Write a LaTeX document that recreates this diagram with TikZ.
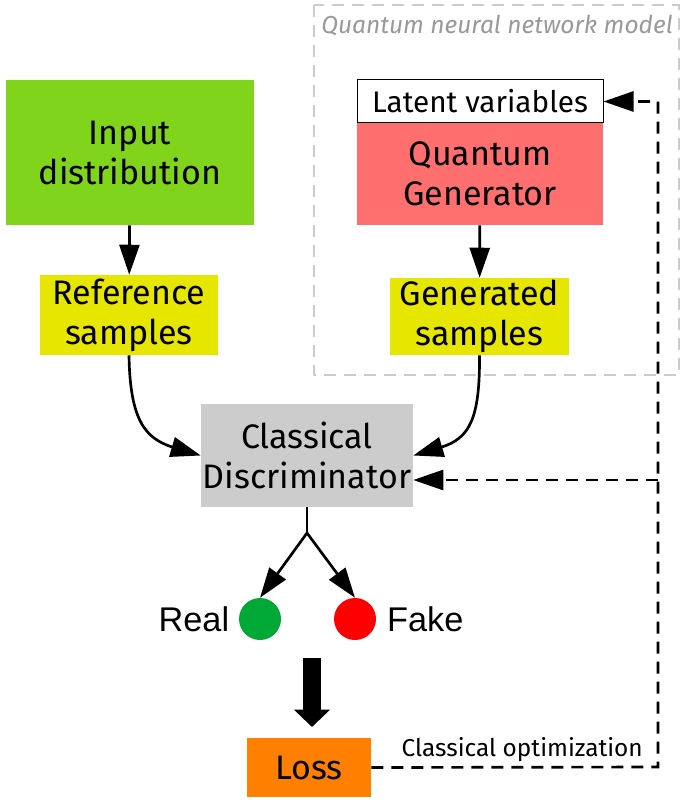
\documentclass[tikz,border=0pt]{standalone}
\usepackage{fontspec}
\setmainfont{Fira Sans}
\newfontfamily\arialfont{Liberation Sans}
\usetikzlibrary{arrows.meta,positioning}

\definecolor{inpgreen}{RGB}{128,212,27}
\definecolor{sampyellow}{RGB}{230,230,0}
\definecolor{qgenred}{RGB}{255,111,111}
\definecolor{discgray}{RGB}{204,204,204}
\definecolor{lossorange}{RGB}{255,127,0}
\definecolor{realgreen}{RGB}{0,168,53}
\definecolor{fakered}{RGB}{255,0,0}
\definecolor{modelgray}{RGB}{204,204,204}
\definecolor{titlegray}{RGB}{153,153,153}

\tikzset{
  box/.style={inner sep=0pt, align=center, font=\fontsize{25.5}{30}\selectfont},
  flow/.style={line width=2pt, -{Triangle[width=15pt,length=22.5pt]}},
  feedback/.style={line width=2pt, dash pattern=on 9pt off 6pt, -{Triangle[width=15pt,length=22.5pt]}},
}

\begin{document}
\begin{tikzpicture}[x=0.75pt,y=0.75pt,yscale=-1,xscale=1]
\useasboundingbox (0,0) rectangle (687,805);

% model frame
\draw [modelgray, line width=1.6pt, dash pattern=on 9pt off 6pt] (314,5) rectangle (679,375);
\node [anchor=base west, inner sep=0pt, text=titlegray, font=\fontsize{18.4}{22}\selectfont\itshape] (title) at (321,34) {Quantum neural network model};

% boxes
\node [box, fill=inpgreen, minimum width=186pt, minimum height=108.75pt] (inp) at (130,152.5) {Input\\distribution};
\node [box, fill=sampyellow, minimum width=133.5pt, minimum height=60pt] (ref) at (129,315) {Reference\\samples};
\node [box, draw, line width=0.75pt, fill=white, minimum width=184.5pt, minimum height=32.25pt, font=\fontsize{22.3}{26}\selectfont] (lat) at (480,101.5) {Latent variables};
\node [box, fill=qgenred, minimum width=184.5pt, minimum height=76.5pt] (qgen) at (480,174) {Quantum\\Generator};
\node [box, fill=sampyellow, minimum width=134.25pt, minimum height=57.75pt] (gen) at (479.5,316.5) {Generated\\samples};
\node [box, fill=discgray, minimum width=159pt, minimum height=77.25pt] (disc) at (307,455.5) {Classical\\Discriminator};
\node [circle, fill=realgreen, minimum size=31.5pt, inner sep=0pt] (real) at (260,619) {};
\node [circle, fill=fakered, minimum size=31.5pt, inner sep=0pt] (fake) at (355,619) {};
\node [left=7pt of real, inner sep=0pt, font=\arialfont\fontsize{25.7}{30}\selectfont] (reallbl) {Real};
\node [right=8pt of fake, inner sep=0pt, font=\arialfont\fontsize{25.7}{30}\selectfont] (fakelbl) {Fake};
\node [box, fill=lossorange, minimum width=93pt, minimum height=44.25pt] (loss) at (309,767.5) {Loss};
\node [anchor=base east, inner sep=0pt, font=\fontsize{18.3}{22}\selectfont] (optlbl) at (643,756) {Classical optimization};

% arrows
\draw [flow] (inp) -- (ref);
\draw [flow] (qgen) -- (gen);
\coordinate (refbend) at (172,447);
\coordinate (genbend) at (442,447);
\draw [line width=2pt] (ref.south) .. controls (130,420) and (145,438) .. (refbend);
\draw [flow] (refbend) -- (disc.west);
\draw [line width=2pt] (gen.south) .. controls (480,420) and (469,438) .. (genbend);
\draw [flow] (genbend) -- (disc.east);

\coordinate (fork) at (307,533);
\draw [line width=2pt] (disc.south) -- (fork);
\draw [flow] (fork) -- (real.north);
\draw [flow] (fork) -- (fake.north);

\coordinate (thicktop) at (312,658);
\coordinate (thicktip) at (312,727);
\draw [line width=13.5pt, -{Triangle[width=26.25pt,length=13pt]}] (thicktop) -- (thicktip);

% classical optimization loop
\coordinate (corner) at (658,767);
\coordinate (branch) at (658,480);
\draw [feedback] (loss.east) -- (corner) |- (lat.east);
\draw [feedback] (branch) -- (branch -| disc.east);

\end{tikzpicture}
\end{document}
